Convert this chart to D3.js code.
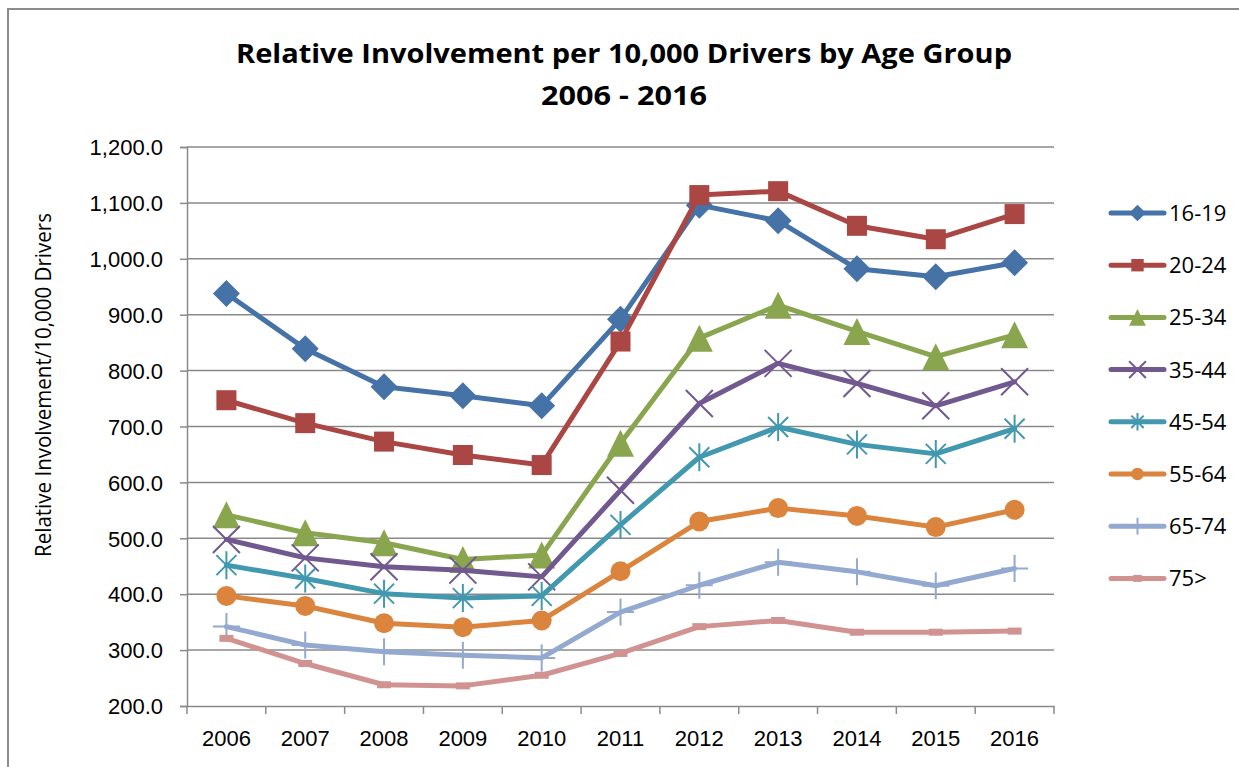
<!DOCTYPE html>
<html><head><meta charset="utf-8">
<script src="https://cdn.jsdelivr.net/npm/d3@7"></script>
<style>
html,body{margin:0;padding:0;background:#fff;}
svg{display:block;font-family:"Open Sans","Liberation Sans",sans-serif;}
</style></head>
<body>
<svg id="chart" width="1239" height="767"></svg>
<script>
const years = ["2006","2007","2008","2009","2010","2011","2012","2013","2014","2015","2016"];
const seriesNames = ["16-19","20-24","25-34","35-44","45-54","55-64","65-74","75>"];
const v16_19 = [938, 839, 771, 755, 737, 892, 1096, 1068, 982, 968, 993];
const v20_24 = [747, 706, 673, 649, 631, 852, 1114, 1121, 1059, 1035, 1080];
const v25_34 = [542, 510, 492, 462, 470, 670, 858, 917, 870, 825, 864];
const v35_44 = [498, 465, 449, 443, 431, 586, 741, 813, 777, 737, 780];
const v45_54 = [452, 428, 401, 393, 397, 524, 645, 699, 668, 651, 696];
const v55_64 = [397, 379, 348, 341, 353, 441, 530, 554, 540, 520, 551];
const v65_74 = [342, 309, 297, 291, 286, 368, 416, 457, 440, 415, 446];
const v75 = [321, 276, 238, 236, 255, 294, 342, 353, 332, 332, 334];
const yTicks = [200,300,400,500,600,700,800,900,1000,1100,1200];
const colors = ["#4572A7","#AA4643","#89A54E","#71588F","#4198AF","#DB843D","#93A9CF","#D19392"];
const markers = ["diamond","square","triangle","x","star","circle","plus","dash"];
const allValues = [v16_19, v20_24, v25_34, v35_44, v45_54, v55_64, v65_74, v75];

const series = seriesNames.map((n,i)=>({name:n, values:allValues[i], color:colors[i], marker:markers[i]}));

const svg = d3.select("#chart");
const L = 187, R = 1054, T = 147, B = 706;

// outer border
svg.append("rect").attr("x",8).attr("y",9).attr("width",1240).attr("height",780)
  .attr("fill","none").attr("stroke","#8c8c8c").attr("stroke-width",2);

const x = d3.scaleBand().domain(years).range([L,R]).padding(0);
const y = d3.scaleLinear().domain([200,1200]).range([B,T]);

// gridlines
svg.append("g").selectAll("line").data(yTicks.slice(1)).join("line")
  .attr("x1",L).attr("x2",R).attr("y1",d=>y(d)).attr("y2",d=>y(d))
  .attr("stroke","#8a8a8a").attr("stroke-width",1.5);

// y axis
const fmt = d3.format(",.1f");
const yAxis = svg.append("g").attr("transform",`translate(${L},0)`)
  .call(d3.axisLeft(y).tickValues(yTicks).tickFormat(fmt).tickSize(7).tickPadding(17));
yAxis.select(".domain").attr("stroke","#8a8a8a").attr("stroke-width",1.5);
yAxis.selectAll(".tick line").attr("stroke","#8a8a8a").attr("stroke-width",1.5);
yAxis.selectAll("text").attr("font-size",22).attr("fill","#000").attr("dy","0.35em");

// x axis
const xAxis = svg.append("g").attr("transform",`translate(0,${B})`)
  .call(d3.axisBottom(x).tickSize(0).tickPadding(24));
xAxis.select(".domain").attr("stroke","#8a8a8a").attr("stroke-width",1.5);
xAxis.selectAll("text").attr("font-size",22).attr("fill","#000");
// category boundary ticks
const bounds = years.map(d=>x(d)).concat([R]);
svg.append("g").selectAll("line").data(bounds).join("line")
  .attr("x1",d=>d).attr("x2",d=>d).attr("y1",B).attr("y2",B+8)
  .attr("stroke","#8a8a8a").attr("stroke-width",1.5);

// title
svg.append("text").attr("x",624).attr("y",63).attr("text-anchor","middle")
  .attr("font-size",27).attr("font-weight","bold").attr("fill","#000")
  .attr("textLength",776).attr("lengthAdjust","spacingAndGlyphs")
  .text("Relative Involvement per 10,000 Drivers by Age Group");
svg.append("text").attr("x",624).attr("y",105).attr("text-anchor","middle")
  .attr("font-size",27).attr("font-weight","bold").attr("fill","#000")
  .attr("textLength",166).attr("lengthAdjust","spacingAndGlyphs")
  .text("2006 - 2016");

// y axis title
svg.append("text").attr("transform","translate(51,385) rotate(-90)")
  .attr("text-anchor","middle").attr("font-size",21).attr("fill","#000")
  .attr("textLength",344).attr("lengthAdjust","spacingAndGlyphs")
  .text("Relative Involvement/10,000 Drivers");

function drawMarker(g, type, color, s) {
  const h = 13.5*s;
  switch(type){
    case "diamond":
      g.append("path").attr("d",`M0,${-h}L${h},0L0,${h}L${-h},0Z`).attr("fill",color); break;
    case "square":
      g.append("rect").attr("x",-10*s).attr("y",-10*s).attr("width",20*s).attr("height",20*s).attr("fill",color); break;
    case "triangle":
      g.append("path").attr("d",`M0,${-h}L${h},${h}L${-h},${h}Z`).attr("fill",color); break;
    case "x":
      g.append("path").attr("d",`M${-h},${-h}L${h},${h}M${-h},${h}L${h},${-h}`).attr("stroke",color).attr("stroke-width",2); break;
    case "star": {
      const a = 10*s;
      g.append("path").attr("d",`M${-a},${-a}L${a},${a}M${-a},${a}L${a},${-a}M0,${-a*1.4}L0,${a*1.4}`).attr("stroke",color).attr("stroke-width",2); break; }
    case "circle":
      g.append("circle").attr("r",10*s).attr("fill",color); break;
    case "plus":
      g.append("path").attr("d",`M${-h},0L${h},0M0,${-h}L0,${h}`).attr("stroke",color).attr("stroke-width",2); break;
    case "dash":
      g.append("rect").attr("x",-7*s).attr("y",-3.5).attr("width",14*s).attr("height",7).attr("fill",color); break;
  }
}

const line = d3.line().x((d,i)=>x(years[i])+x.bandwidth()/2).y(d=>y(d));

series.forEach(s=>{
  const g = svg.append("g");
  g.append("path").attr("d",line(s.values)).attr("fill","none")
    .attr("stroke",s.color).attr("stroke-width",5).attr("stroke-linejoin","round").attr("stroke-linecap","round");
  s.values.forEach((v,i)=>{
    const mg = g.append("g").attr("transform",`translate(${x(years[i])+x.bandwidth()/2},${y(v)})`);
    drawMarker(mg, s.marker, s.color, 1);
  });
});

// legend
const lg = svg.append("g");
series.forEach((s,i)=>{
  const yy = 213 + i*52.2;
  const g = lg.append("g").attr("transform",`translate(0,${yy})`);
  g.append("line").attr("x1",1111).attr("x2",1164).attr("y1",0).attr("y2",0)
    .attr("stroke",s.color).attr("stroke-width",5).attr("stroke-linecap","round");
  const mg = g.append("g").attr("transform","translate(1137.5,0)");
  drawMarker(mg, s.marker, s.color, 0.62);
  g.append("text").attr("x",1169).attr("y",0).attr("dy","0.36em")
    .attr("font-size",22).attr("fill","#000").text(s.name);
});
</script>
</body></html>
